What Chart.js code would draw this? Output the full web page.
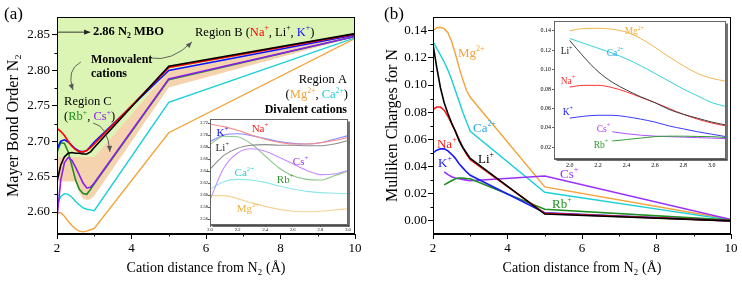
<!DOCTYPE html>
<html><head><meta charset="utf-8">
<script src="https://cdn.jsdelivr.net/npm/chart.js@4.4.1/dist/chart.umd.min.js"></script>
<style>
html,body{margin:0;padding:0;background:#fff;width:742px;height:284px;overflow:hidden;}
.box{position:absolute;}
.box canvas{display:block;}
.plab{position:absolute;font-family:"Liberation Serif","Times New Roman",serif;font-size:17px;line-height:17px;color:#000;}
</style></head><body>
<div class="box" style="left:0;top:0;width:370px;height:284px"><canvas id="cA" width="370" height="284"></canvas></div>
<div class="box" style="left:370px;top:0;width:372px;height:284px"><canvas id="cB" width="372" height="284"></canvas></div>
<div class="box" style="left:190px;top:110px;width:165px;height:124px"><canvas id="iA" width="165" height="124"></canvas></div>
<div class="box" style="left:530px;top:14px;width:204px;height:156px"><canvas id="iB" width="204" height="156"></canvas></div>
<div class="plab" style="left:4px;top:5px">(a)</div>
<div class="plab" style="left:384px;top:5px">(b)</div>
<script>
// ================= DATA =================
const xDetail = [2.0, 2.1, 2.2, 2.3, 2.4, 2.5, 2.6, 2.7, 2.8, 2.9, 3.0];
const xFar = [5, 10];
const xInsetB = [2.0, 2.1, 2.2, 2.3, 2.4, 2.5, 2.6, 2.7, 2.8, 2.9, 3.0, 3.1];

// Panel (a): Mayer bond order of N2 (detail 2.0-3.0, then 5 and 10 Å)
const mboLi = [2.643, 2.666, 2.678, 2.683, 2.684, 2.683, 2.683, 2.682, 2.682, 2.685, 2.691];
const mboLiFar = [2.806, 2.852];
const mboNa = [2.718, 2.714, 2.708, 2.700, 2.693, 2.688, 2.685, 2.685, 2.687, 2.691, 2.696];
const mboNaFar = [2.804, 2.851];
const mboK = [2.689, 2.700, 2.702, 2.699, 2.694, 2.689, 2.686, 2.685, 2.687, 2.693, 2.699];
const mboKFar = [2.800, 2.850];
const mboRb = [2.684, 2.698, 2.697, 2.685, 2.665, 2.645, 2.632, 2.626, 2.625, 2.632, 2.640];
const mboRbFar = [2.787, 2.848];
const mboCs = [2.592, 2.645, 2.670, 2.677, 2.673, 2.663, 2.652, 2.641, 2.634, 2.635, 2.641];
const mboCsFar = [2.788, 2.848];
const mboCa = [2.610, 2.622, 2.626, 2.625, 2.621, 2.615, 2.610, 2.606, 2.604, 2.603, 2.602];
const mboCaFar = [2.755, 2.846];
const mboMg = [2.599, 2.599, 2.594, 2.587, 2.581, 2.576, 2.573, 2.572, 2.573, 2.575, 2.577];
const mboMgFar = [2.712, 2.845];

// Shaded regions of panel (a)
const bandX = [2.0, 2.5, 2.6, 2.7, 2.8, 2.9, 3.0, 5, 10];
const bandUpper = [2.678, 2.678, 2.678, 2.678, 2.678, 2.678, 2.678, 2.799, 2.849];
const bandLower = [2.643, 2.643, 2.628, 2.619, 2.617, 2.618, 2.623, 2.776, 2.847];

// Panel (b): Mulliken charges for N (detail 2.0-3.1, then 5 and 10 Å)
const mcMg = [0.140, 0.1423, 0.1425, 0.1415, 0.1385, 0.132, 0.123, 0.113, 0.104, 0.096, 0.091, 0.088];
const mcMgFar = [0.025, 0.001];
const mcCa = [0.132, 0.127, 0.122, 0.117, 0.111, 0.104, 0.096, 0.088, 0.080, 0.073, 0.066, 0.062];
const mcCaFar = [0.021, 0.0005];
const mcLi = [0.130, 0.113, 0.098, 0.087, 0.079, 0.072, 0.066, 0.059, 0.054, 0.050, 0.046, 0.043];
const mcLiFar = [0.005, 0.000];
const mcNa = [0.082, 0.0838, 0.0838, 0.0815, 0.077, 0.0715, 0.066, 0.060, 0.054, 0.049, 0.045, 0.042];
const mcNaFar = [0.0055, 0.000];
const mcK = [0.050, 0.052, 0.053, 0.053, 0.0515, 0.049, 0.046, 0.042, 0.039, 0.036, 0.0335, 0.031];
const mcKFar = [0.006, 0.000];
const mcCs = [null, null, null, 0.036, 0.034, 0.0325, 0.0315, 0.031, 0.0305, 0.030, 0.0295, 0.029];
const mcCsFar = [0.033, 0.001];
const mcRb = [null, null, null, 0.0265, 0.028, 0.0295, 0.031, 0.0315, 0.0315, 0.0312, 0.031, 0.030];
const mcRbFar = [0.0085, 0.0005];

// Tick labels
const ticksMainX = [2, 4, 6, 8, 10];
const ticksAY = [2.60, 2.65, 2.70, 2.75, 2.80, 2.85];
const ticksBY = [0.00, 0.02, 0.04, 0.06, 0.08, 0.10, 0.12, 0.14];
const ticksInsetX = [2.0, 2.2, 2.4, 2.6, 2.8, 3.0];
const ticksIAY = [2.56, 2.58, 2.60, 2.62, 2.64, 2.66, 2.68, 2.70, 2.72];
const ticksIBY = [0.02, 0.04, 0.06, 0.08, 0.10, 0.12, 0.14];

// ================= HELPERS =================
const FONT = '"Liberation Serif", "Times New Roman", serif';
Chart.defaults.font.family = FONT;
Chart.defaults.color = '#000';

function pts(xs, ys) {
  const out = [];
  for (let i = 0; i < ys.length; i++) if (ys[i] !== null && ys[i] !== undefined) out.push({x: xs[i], y: ys[i]});
  return out;
}
function mainLine(label, detail, far, color, w) {
  const n = xDetail.length;
  return {label, data: pts(xDetail.concat(xFar), detail.slice(0, n).concat(far)),
    borderColor: color, borderWidth: w, pointRadius: 0, fill: false, tension: 0, order: 0};
}
function insetLine(label, xs, ys, color, w) {
  return {label, data: pts(xs, ys), borderColor: color, borderWidth: w, pointRadius: 0,
    fill: false, cubicInterpolationMode: 'monotone', order: 0};
}
function mids(arr) { const m = []; for (let i = 0; i < arr.length - 1; i++) m.push((arr[i] + arr[i+1]) / 2); return m; }

function drawRuns(ctx, x0, y0, runs, size, align) {
  const parts = runs.map(r => {
    const k = r[2] || '';
    const bold = k.indexOf('b') === 0;
    const small = k.indexOf('sup') >= 0 || k.indexOf('sub') >= 0;
    const fs = small ? size * 0.62 : size;
    const font = (bold ? 'bold ' : '') + fs + 'px ' + FONT;
    ctx.font = font;
    return {t: r[0], c: r[1], font, w: ctx.measureText(r[0]).width,
      dy: k.indexOf('sup') >= 0 ? -size * 0.36 : (k.indexOf('sub') >= 0 ? size * 0.28 : 0)};
  });
  const total = parts.reduce((s, p) => s + p.w, 0);
  let x = align === 'right' ? x0 - total : (align === 'center' ? x0 - total / 2 : x0);
  ctx.textBaseline = 'middle'; ctx.textAlign = 'left';
  parts.forEach(p => { ctx.font = p.font; ctx.fillStyle = p.c; ctx.fillText(p.t, x, y0 + p.dy); x += p.w; });
}
function drawArrow(ctx, p0, c, p1, color) {
  ctx.save();
  ctx.strokeStyle = color; ctx.fillStyle = color; ctx.lineWidth = 0.9;
  ctx.beginPath(); ctx.moveTo(p0.x, p0.y);
  if (c) ctx.quadraticCurveTo(c.x, c.y, p1.x, p1.y); else ctx.lineTo(p1.x, p1.y);
  ctx.stroke();
  const from = c || p0;
  const a = Math.atan2(p1.y - from.y, p1.x - from.x);
  const L = 6, W = 2.6;
  ctx.beginPath(); ctx.moveTo(p1.x, p1.y);
  ctx.lineTo(p1.x - L*Math.cos(a) + W*Math.sin(a), p1.y - L*Math.sin(a) - W*Math.cos(a));
  ctx.lineTo(p1.x - L*Math.cos(a) - W*Math.sin(a), p1.y - L*Math.sin(a) + W*Math.cos(a));
  ctx.closePath(); ctx.fill();
  ctx.restore();
}

const notesPlugin = {
  id: 'notes',
  afterDatasetsDraw(chart, args, o) {
    const {ctx, scales: {x, y}} = chart;
    const P = (v) => ({x: x.getPixelForValue(v[0]), y: y.getPixelForValue(v[1])});
    ctx.save();
    (o.arrows || []).forEach(a => drawArrow(ctx, P(a.from), a.ctrl ? P(a.ctrl) : null, P(a.to), a.color || '#333'));
    (o.texts || []).forEach(t => drawRuns(ctx, x.getPixelForValue(t.x), y.getPixelForValue(t.y), t.runs, t.size, t.align || 'left'));
    ctx.restore();
  }
};
const framePlugin = {
  id: 'frame',
  beforeDraw(chart, args, o) {
    if (!o.bg) return;
    const {ctx, chartArea: a} = chart;
    ctx.save(); ctx.fillStyle = o.bg; ctx.fillRect(a.left, a.top, a.right - a.left, a.bottom - a.top); ctx.restore();
  },
  afterDraw(chart, args, o) {
    const {ctx, chartArea: a, scales} = chart;
    ctx.save();
    const L = Math.round(a.left) + 0.5, T = Math.round(a.top) + 0.5, R = Math.round(a.right) - 0.5, B = Math.round(a.bottom) - 0.5;
    ctx.strokeStyle = o.color || '#000'; ctx.lineWidth = 1;
    ctx.strokeRect(L, T, R - L, B - T);
    if (o.shadow) {
      ctx.strokeStyle = o.shadow; ctx.lineWidth = 1.5;
      ctx.beginPath(); ctx.moveTo(L + 2, B + 1.5); ctx.lineTo(R + 1.5, B + 1.5); ctx.lineTo(R + 1.5, T + 2); ctx.stroke();
    }
    if (o.minorX || o.minorY) {
      ctx.strokeStyle = o.color || '#000'; ctx.lineWidth = 1; ctx.beginPath();
      (o.minorX || []).forEach(v => { const px = Math.round(scales.x.getPixelForValue(v)) + 0.5; ctx.moveTo(px, B); ctx.lineTo(px, B + o.minorLen); });
      (o.minorY || []).forEach(v => { const py = Math.round(scales.y.getPixelForValue(v)) + 0.5; ctx.moveTo(L, py); ctx.lineTo(L - o.minorLen, py); });
      ctx.stroke();
    }
    ctx.restore();
  }
};

function mkAxis(o) {
  return {
    type: 'linear', min: o.min, max: o.max,
    afterBuildTicks: s => { s.ticks = o.ticks.map(v => ({value: v})); },
    afterFit: s => { if (o.w !== undefined) s.width = o.w; if (o.h !== undefined) s.height = o.h; },
    grid: {drawOnChartArea: false, drawTicks: true, tickLength: o.tl, color: o.bc, lineWidth: 1},
    border: {display: true, color: o.bc, width: 1},
    ticks: {font: {size: o.fs, family: FONT}, color: '#000', padding: o.tp, maxRotation: 0, minRotation: 0,
      autoSkip: false, callback: v => Number(v).toFixed(o.dec)},
    title: o.title ? {display: true, text: o.title, font: {size: o.tfs, family: FONT}, color: '#000',
      padding: o.tpad} : {display: false}
  };
}
function baseOpts(pad, scales, plugins) {
  return {
    responsive: false, animation: false, devicePixelRatio: 1,
    layout: {padding: pad},
    scales,
    plugins: Object.assign({legend: {display: false}, tooltip: {enabled: false}}, plugins)
  };
}

// ================= COLOURS =================
const cA = {Li: '#000000', Na: '#ff0000', K: '#1010ff', Cs: '#8a1ef0', Rb: '#1f8f1f', Ca: '#1ccfd6', Mg: '#f2a33a'};
const cIA = {Li: '#8c8c8c', Na: '#f58c8c', K: '#8a8aff', Cs: '#c58cff', Rb: '#8cc88c', Ca: '#8ee8ea', Mg: '#f5d296'};
const cIB = {Li: '#404040', Na: '#ff3030', K: '#3a3aff', Cs: '#b050ff', Rb: '#33a033', Ca: '#35d3d8', Mg: '#f2b650'};
const GREEN_FILL = '#dcf5b4', TAN_FILL = '#f4d3ae';

// ================= PANEL (a) =================
const dsA = [
  mainLine('Li', mboLi, mboLiFar, cA.Li, 1.6),
  mainLine('Na', mboNa, mboNaFar, cA.Na, 1.6),
  mainLine('K', mboK, mboKFar, cA.K, 1.6),
  mainLine('Cs', mboCs, mboCsFar, cA.Cs, 1.6),
  mainLine('Rb', mboRb, mboRbFar, cA.Rb, 1.6),
  mainLine('Ca', mboCa, mboCaFar, cA.Ca, 1.4),
  mainLine('Mg', mboMg, mboMgFar, cA.Mg, 1.4),
];
const idxUpper = dsA.length;
dsA.push({label: 'monovalent', data: pts(bandX, bandUpper), borderWidth: 0, borderColor: 'rgba(0,0,0,0)',
  pointRadius: 0, tension: 0, fill: {target: 'end'}, backgroundColor: GREEN_FILL, order: 10});
dsA.push({label: 'regionC', data: pts(bandX, bandLower), borderWidth: 0, borderColor: 'rgba(0,0,0,0)',
  pointRadius: 0, tension: 0, fill: {target: idxUpper}, backgroundColor: TAN_FILL, order: 10});

new Chart(document.getElementById('cA'), {
  type: 'line', data: {datasets: dsA},
  options: baseOpts({top: 17, right: 15, left: 0, bottom: 0}, {
    x: mkAxis({min: 2, max: 10, ticks: ticksMainX, h: 50, tl: 5, bc: '#000', fs: 13, tp: 2, dec: 0,
      title: 'Cation distance from N\u2082 (\u00c5)', tfs: 14, tpad: {top: 0, bottom: 7}}),
    y: mkAxis({min: 2.569, max: 2.8754, ticks: ticksAY, w: 57, tl: 5, bc: '#000', fs: 13, tp: 2, dec: 2,
      title: 'Mayer Bond Order N\u2082', tfs: 16, tpad: {top: 4, bottom: 0}})
  }, {
    frame: {color: '#000', minorX: mids(ticksMainX), minorY: mids(ticksAY), minorLen: 3},
    notes: {
      arrows: [
        {from: [2.0, 2.854], to: [2.89, 2.854], color: '#222'},
        {from: [4.50, 2.8175], ctrl: [5.09, 2.8119], to: [5.62, 2.8401], color: '#555'},
        {from: [2.64, 2.8119], ctrl: [2.24, 2.8006], to: [2.43, 2.7723], color: '#555'},
        {from: [2.97, 2.7257], ctrl: [3.37, 2.7215], to: [3.42, 2.685], color: '#555'}
      ],
      texts: [
        {x: 2.966, y: 2.854, size: 12.5, runs: [['2.86 N', '#000', 'b'], ['2', '#000', 'bsub'], [' MBO', '#000', 'b']]},
        {x: 5.705, y: 2.853, size: 12.5, runs: [['Region B (', '#000'], ['Na', '#ff0000'], ['+', '#ff0000', 'sup'], [', Li', '#000'], ['+', '#000', 'sup'], [', ', '#000'], ['K', '#1010ff'], ['+', '#1010ff', 'sup'], [')', '#000']]},
        {x: 2.913, y: 2.8154, size: 12, runs: [['Monovalent', '#000', 'b']]},
        {x: 2.913, y: 2.7949, size: 12, runs: [['cations', '#000', 'b']]},
        {x: 2.19, y: 2.7562, size: 12.5, runs: [['Region C', '#000']]},
        {x: 2.19, y: 2.7342, size: 12.5, runs: [['(', '#000'], ['Rb', cA.Rb], ['+', cA.Rb, 'sup'], [', ', '#000'], ['Cs', cA.Cs], ['+', cA.Cs, 'sup'], [')', '#000']]},
        {x: 9.785, y: 2.7864, size: 12.5, align: 'right', runs: [['Region A', '#000']]},
        {x: 9.81, y: 2.7653, size: 12.5, align: 'right', runs: [['(', '#000'], ['Mg', cA.Mg], ['2+', cA.Mg, 'sup'], [', ', '#000'], ['Ca', cA.Ca], ['2+', cA.Ca, 'sup'], [')', '#000']]},
        {x: 9.785, y: 2.7448, size: 12, align: 'right', runs: [['Divalent cations', '#000', 'b']]}
      ]
    }
  }),
  plugins: [framePlugin, notesPlugin]
});

// ================= INSET (a) =================
const dIA = [
  insetLine('Li', xDetail, mboLi, cIA.Li, 1.1),
  insetLine('Na', xDetail, mboNa, cIA.Na, 1.1),
  insetLine('K', xDetail, mboK, cIA.K, 1.1),
  insetLine('Cs', xDetail, mboCs, cIA.Cs, 1.1),
  insetLine('Rb', xDetail, mboRb, cIA.Rb, 1.1),
  insetLine('Ca', xDetail, mboCa, cIA.Ca, 1.1),
  insetLine('Mg', xDetail, mboMg, cIA.Mg, 1.1),
];
new Chart(document.getElementById('iA'), {
  type: 'line', data: {datasets: dIA},
  options: baseOpts({top: 9, right: 7, left: 0, bottom: 0}, {
    x: mkAxis({min: 2.0, max: 3.0, ticks: ticksInsetX, h: 9, tl: 2, bc: '#666', fs: 4.5, tp: 0, dec: 1}),
    y: mkAxis({min: 2.55, max: 2.7267, ticks: ticksIAY, w: 20, tl: 2, bc: '#666', fs: 4.5, tp: 0, dec: 2})
  }, {
    frame: {color: '#666', bg: '#fff', shadow: '#444'},
    notes: {texts: [
      {x: 2.047, y: 2.7033, size: 11, runs: [['K', '#1010ff'], ['+', '#1010ff', 'sup']]},
      {x: 2.302, y: 2.7092, size: 11, runs: [['Na', '#ff2020'], ['+', '#ff2020', 'sup']]},
      {x: 2.04, y: 2.678, size: 11, runs: [['Li', '#333'], ['+', '#333', 'sup']]},
      {x: 2.60, y: 2.6555, size: 11, runs: [['Cs', '#9933ff'], ['+', '#9933ff', 'sup']]},
      {x: 2.178, y: 2.6362, size: 11, runs: [['Ca', '#30d0d0'], ['2+', '#30d0d0', 'sup']]},
      {x: 2.484, y: 2.625, size: 11, runs: [['Rb', '#339933'], ['+', '#339933', 'sup']]},
      {x: 2.193, y: 2.5762, size: 11, runs: [['Mg', '#f0b040'], ['2+', '#f0b040', 'sup']]}
    ]}
  }),
  plugins: [framePlugin, notesPlugin]
});

// ================= PANEL (b) =================
const cB = {Mg: '#f2a33a', Ca: '#1ccfd6', Li: '#000000', Na: '#ff1a1a', K: '#1a1aff', Cs: '#9a30ff', Rb: '#1f8f1f'};
const dsB = [
  mainLine('Li', mcLi, mcLiFar, cB.Li, 1.6),
  mainLine('Na', mcNa, mcNaFar, cB.Na, 1.6),
  mainLine('K', mcK, mcKFar, cB.K, 1.6),
  mainLine('Rb', mcRb, mcRbFar, cB.Rb, 1.6),
  mainLine('Cs', mcCs, mcCsFar, cB.Cs, 1.6),
  mainLine('Ca', mcCa, mcCaFar, cB.Ca, 1.4),
  mainLine('Mg', mcMg, mcMgFar, cB.Mg, 1.4),
];
new Chart(document.getElementById('cB'), {
  type: 'line', data: {datasets: dsB},
  options: baseOpts({top: 17, right: 11, left: 0, bottom: 0}, {
    x: mkAxis({min: 2, max: 10, ticks: ticksMainX, h: 50, tl: 5, bc: '#000', fs: 13, tp: 2, dec: 0,
      title: 'Cation distance from N\u2082 (\u00c5)', tfs: 14, tpad: {top: 0, bottom: 7}}),
    y: mkAxis({min: -0.0097, max: 0.1501, ticks: ticksBY, w: 63, tl: 5, bc: '#000', fs: 13, tp: 1, dec: 2,
      title: 'Mulliken Charges for N', tfs: 16, tpad: {top: 13, bottom: 0}})
  }, {
    frame: {color: '#000', minorX: mids(ticksMainX), minorY: mids(ticksBY), minorLen: 3},
    notes: {texts: [
      {x: 2.671, y: 0.1234, size: 13, runs: [['Mg', cB.Mg], ['2+', cB.Mg, 'sup']]},
      {x: 3.074, y: 0.0681, size: 13, runs: [['Ca', '#28a8e8'], ['2+', '#28a8e8', 'sup']]},
      {x: 2.107, y: 0.0558, size: 13, runs: [['Na', cB.Na], ['+', cB.Na, 'sup']]},
      {x: 3.208, y: 0.0452, size: 13, runs: [['Li', '#000'], ['+', '#000', 'sup']]},
      {x: 2.134, y: 0.0418, size: 13, runs: [['K', cB.K], ['+', cB.K, 'sup']]},
      {x: 5.409, y: 0.0337, size: 13, runs: [['Cs', cB.Cs], ['+', cB.Cs, 'sup']]},
      {x: 5.195, y: 0.0123, size: 13, runs: [['Rb', cB.Rb], ['+', cB.Rb, 'sup']]}
    ]}
  }),
  plugins: [framePlugin, notesPlugin]
});

// ================= INSET (b) =================
const dIB = [
  insetLine('Li', xInsetB, mcLi, cIB.Li, 1),
  insetLine('Na', xInsetB, mcNa, cIB.Na, 1),
  insetLine('K', xInsetB, mcK, cIB.K, 1),
  insetLine('Rb', xInsetB, mcRb, cIB.Rb, 1),
  insetLine('Cs', xInsetB, mcCs, cIB.Cs, 1),
  insetLine('Ca', xInsetB, mcCa, cIB.Ca, 1),
  insetLine('Mg', xInsetB, mcMg, cIB.Mg, 1),
];
new Chart(document.getElementById('iB'), {
  type: 'line', data: {datasets: dIB},
  options: baseOpts({top: 7, right: 8, left: 0, bottom: 0}, {
    x: mkAxis({min: 1.89, max: 3.1, ticks: ticksInsetX, h: 11, tl: 2, bc: '#666', fs: 6, tp: 1, dec: 1}),
    y: mkAxis({min: 0.008, max: 0.150, ticks: ticksIBY, w: 24, tl: 2, bc: '#666', fs: 6, tp: 1, dec: 2})
  }, {
    frame: {color: '#666', bg: '#fff', shadow: '#444'},
    notes: {texts: [
      {x: 2.387, y: 0.1387, size: 9.5, runs: [['Mg', '#f0b040'], ['2+', '#f0b040', 'sup']]},
      {x: 2.261, y: 0.117, size: 9.5, runs: [['Ca', '#28a8e8'], ['2+', '#28a8e8', 'sup']]},
      {x: 1.937, y: 0.1183, size: 9.5, runs: [['Li', '#222'], ['+', '#222', 'sup']]},
      {x: 1.937, y: 0.0881, size: 9.5, runs: [['Na', '#ff3030'], ['+', '#ff3030', 'sup']]},
      {x: 1.951, y: 0.0562, size: 9.5, runs: [['K', '#2020ff'], ['+', '#2020ff', 'sup']]},
      {x: 2.19, y: 0.0387, size: 9.5, runs: [['Cs', '#b040ff'], ['+', '#b040ff', 'sup']]},
      {x: 2.169, y: 0.0222, size: 9.5, runs: [['Rb', '#2f9a2f'], ['+', '#2f9a2f', 'sup']]}
    ]}
  }),
  plugins: [framePlugin, notesPlugin]
});
</script>
</body></html>
